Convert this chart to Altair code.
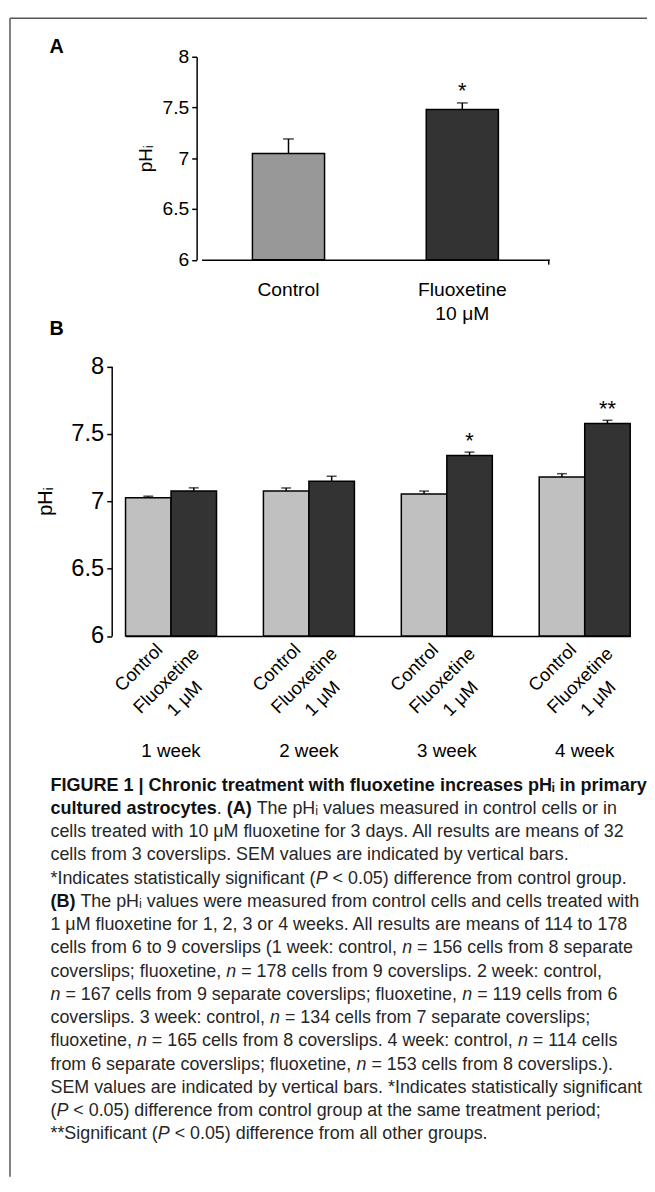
import altair as alt
import pandas as pd

# ------------------------------------------------------------------ data
groups_A = ["Control", "Fluoxetine\n10 μM"]
ph_A = [7.046, 7.48]
sem_A = [0.144, 0.065]
sig_A = ["", "*"]

weeks = ["1 week", "2 week", "3 week", "4 week"]
treatments_B = ["Control", "Fluoxetine\n1 μM"]
ph_B_control = [7.025, 7.075, 7.053, 7.18]
ph_B_fluox = [7.075, 7.148, 7.339, 7.577]
sem_B_control = [0.012, 0.023, 0.022, 0.024]
sem_B_fluox = [0.024, 0.037, 0.025, 0.023]
sig_B = ["", "", "*", "**"]

y_ticks = [6, 6.5, 7, 7.5, 8]
y_base = 6
y_title = "pHᵢ"

N = ("n", "italic")
P = ("P", "italic")
caption_lines = [
    [("FIGURE 1 | Chronic treatment with fluoxetine increases pHᵢ in primary", "bold")],
    [("cultured astrocytes", "bold"), (". ", "normal"), ("(A)", "bold"),
     (" The pHᵢ values measured in control cells or in", "normal")],
    [("cells treated with 10 μM fluoxetine for 3 days. All results are means of 32", "normal")],
    [("cells from 3 coverslips. SEM values are indicated by vertical bars.", "normal")],
    [("*Indicates statistically significant (", "normal"), P,
     (" < 0.05) difference from control group.", "normal")],
    [("(B)", "bold"), (" The pHᵢ values were measured from control cells and cells treated with", "normal")],
    [("1 μM fluoxetine for 1, 2, 3 or 4 weeks. All results are means of 114 to 178", "normal")],
    [("cells from 6 to 9 coverslips (1 week: control, ", "normal"), N,
     (" = 156 cells from 8 separate", "normal")],
    [("coverslips; fluoxetine, ", "normal"), N, (" = 178 cells from 9 coverslips. 2 week: control,", "normal")],
    [N, (" = 167 cells from 9 separate coverslips; fluoxetine, ", "normal"), N,
     (" = 119 cells from 6", "normal")],
    [("coverslips. 3 week: control, ", "normal"), N, (" = 134 cells from 7 separate coverslips;", "normal")],
    [("fluoxetine, ", "normal"), N, (" = 165 cells from 8 coverslips. 4 week: control, ", "normal"), N,
     (" = 114 cells", "normal")],
    [("from 6 separate coverslips; fluoxetine, ", "normal"), N,
     (" = 153 cells from 8 coverslips.).", "normal")],
    [("SEM values are indicated by vertical bars. *Indicates statistically significant", "normal")],
    [("(", "normal"), P, (" < 0.05) difference from control group at the same treatment period;", "normal")],
    [("**Significant (", "normal"), P, (" < 0.05) difference from all other groups.", "normal")],
]

# ------------------------------------------------------------------ layout helpers
FONT = "Liberation Sans"
W, H = 647, 1176
MARGIN = 8


def px(x):
    return x - MARGIN


def py(y):
    return y - MARGIN


def rot_shift(sx, sy):
    # convert a screen shift into the rotated (-45 deg) text frame
    c = 0.7071
    return c * (sx - sy), c * (sx + sy)


# Arial / Liberation Sans advance widths (1/1000 em) used to chain caption segments
_REG = {" ": 278, "!": 278, "(": 333, ")": 333, "*": 389, ",": 278, "-": 333, ".": 278,
        ":": 278, ";": 278, "<": 584, "=": 584, ">": 584, "|": 260, "μ": 576,
        "A": 667, "B": 667, "C": 722, "D": 722, "E": 667, "F": 611, "G": 778, "H": 722,
        "I": 278, "M": 833, "N": 722, "P": 667, "R": 722, "S": 667, "U": 722,
        "a": 556, "b": 556, "c": 500, "d": 556, "e": 556, "f": 278, "g": 556, "h": 556,
        "i": 222, "j": 222, "k": 500, "l": 222, "m": 833, "n": 556, "o": 556, "p": 556,
        "q": 556, "r": 333, "s": 500, "t": 278, "u": 556, "v": 500, "w": 722, "x": 500,
        "y": 500, "z": 500}
_BOLD = {" ": 278, "(": 333, ")": 333, ".": 278, "A": 722, "B": 722, "a": 556, "c": 556,
         "d": 611, "e": 556, "l": 278, "o": 611, "r": 389, "s": 556, "t": 333, "u": 611,
         "y": 556}
ARIAL = {"normal": _REG, "italic": _REG, "bold": _BOLD}
CAP_SIZE = {"normal": 18.1, "italic": 18.1, "bold": 18.25}


def text_width(s, style):
    return sum(ARIAL[style].get(ch, 556) for ch in s) * CAP_SIZE[style] / 1000


one = pd.DataFrame({"k": [0]})

# panel geometry (page pixels)
A_BOTTOM, A_TOP = 255.5, 50
B_BOTTOM, B_TOP = 636.5, 363.5

# ------------------------------------------------------------------ frame
frame = alt.layer(
    alt.Chart(one).mark_rule(color="#555555", strokeWidth=1.5).encode(
        x=alt.value(px(10)), y=alt.value(py(11)), y2=alt.value(H)),
    alt.Chart(one).mark_rule(color="#555555", strokeWidth=1.5).encode(
        x=alt.value(px(10)), x2=alt.value(W), y=alt.value(py(11))),
    alt.Chart(one).mark_rule(color="black", strokeWidth=1.5).encode(
        x=alt.value(px(555.5)), y=alt.value(py(A_BOTTOM)), y2=alt.value(py(A_BOTTOM) + 5)),
    alt.Chart(pd.DataFrame({"t": ["A", "B"], "yy": [py(40), py(326)]})).mark_text(
        font=FONT, fontSize=20, fontWeight="bold", align="left", baseline="middle").encode(
        x=alt.value(px(50)), y=alt.Y("yy:Q", scale=None), text="t:N"),
)

# ------------------------------------------------------------------ panel A
dfA = pd.DataFrame({"group": groups_A, "ph": ph_A, "sem": sem_A, "sig": sig_A})
dfA["upper"] = dfA["ph"] + dfA["sem"]

scale_xA = alt.Scale(domain=groups_A, range=[px(204), px(556)], paddingInner=0.585, paddingOuter=0.2925)
scale_yA = alt.Scale(domain=[6, 8], range=[py(A_BOTTOM), py(A_TOP)], zero=False, nice=False)

xA_axis = alt.Axis(orient="bottom", offset=py(A_BOTTOM) - H, domainColor="black", domainWidth=1.5,
                   ticks=False, labelAngle=0, labelExpr="split(datum.label, '\\n')",
                   labelFontSize=19.5, labelPadding=21, labelLineHeight=25, labelColor="black",
                   labelFont=FONT, title=None, grid=False)
yA_axis = alt.Axis(orient="left", offset=-px(199), values=y_ticks, format=".1~f", tickSize=5,
                   tickWidth=1.5, tickColor="black", domainColor="black", domainWidth=1.5,
                   labelFontSize=19.5, labelPadding=3, labelColor="black", labelFont=FONT,
                   title=y_title, titleFontSize=19, titleFontWeight="normal", titleFont=FONT,
                   titleColor="black", titleX=-42, grid=False)


def xA():
    return alt.X("group:N", sort=groups_A, scale=scale_xA, axis=xA_axis)


def yA(field):
    return alt.Y(field, scale=scale_yA, axis=yA_axis)


baseA = alt.Chart(dfA)
barsA = baseA.mark_bar(stroke="black", strokeWidth=1.5).encode(
    x=xA(), y=yA("ph:Q"), y2=alt.datum(y_base),
    color=alt.Color("group:N", scale=alt.Scale(domain=groups_A, range=["#989898", "#333333"]), legend=None),
)
errA = baseA.mark_rule(color="black", strokeWidth=1.5).encode(
    x=xA(), y=yA("ph:Q"), y2="upper:Q")
capA = baseA.mark_tick(color="black", size=11, thickness=1.5).encode(
    x=xA(), y=yA("upper:Q"))
starA = baseA.mark_text(font=FONT, fontSize=22, baseline="alphabetic", dy=-5, color="black").encode(
    x=xA(), y=yA("upper:Q"), text="sig:N")
panelA = alt.layer(barsA, errA, capA, starA)

# ------------------------------------------------------------------ panel B
rows = []
for i, wk in enumerate(weeks):
    rows.append({"week": wk, "treatment": treatments_B[0], "ph": ph_B_control[i],
                 "sem": sem_B_control[i], "sig": ""})
    rows.append({"week": wk, "treatment": treatments_B[1], "ph": ph_B_fluox[i],
                 "sem": sem_B_fluox[i], "sig": sig_B[i]})
dfB = pd.DataFrame(rows)
dfB["upper"] = dfB["ph"] + dfB["sem"]

scale_xB = alt.Scale(domain=weeks, range=[px(127), px(638)], paddingInner=0.34, paddingOuter=0)
scale_oB = alt.Scale(domain=treatments_B, paddingInner=0, paddingOuter=0)
scale_yB = alt.Scale(domain=[6, 8], range=[py(B_BOTTOM), py(B_TOP)], zero=False, nice=False)

xB_axis = alt.Axis(orient="bottom", offset=py(B_BOTTOM) - H, labels=False, ticks=False,
                   domainColor="black", domainWidth=1.5, title=None, grid=False)
yB_axis = alt.Axis(orient="left", offset=-px(113), values=y_ticks, format=".1~f", tickSize=5,
                   tickWidth=1.5, tickColor="black", domainColor="black", domainWidth=1.5,
                   labelFontSize=24, labelPadding=3, labelColor="black", labelFont=FONT,
                   title=y_title, titleFontSize=20, titleFontWeight="normal", titleFont=FONT,
                   titleColor="black", titleX=-57, grid=False)


def xB():
    return alt.X("week:N", sort=weeks, scale=scale_xB, axis=xB_axis)


def oB():
    return alt.XOffset("treatment:N", sort=treatments_B, scale=scale_oB)


def yB(field):
    return alt.Y(field, scale=scale_yB, axis=yB_axis)


baseB = alt.Chart(dfB)
barsB = baseB.mark_bar(stroke="black", strokeWidth=1.5).encode(
    x=xB(), xOffset=oB(), y=yB("ph:Q"), y2=alt.datum(y_base),
    color=alt.Color("treatment:N", scale=alt.Scale(domain=treatments_B, range=["#c0c0c0", "#333333"]),
                    legend=None),
)
errB = baseB.mark_rule(color="black", strokeWidth=1.5).encode(
    x=xB(), xOffset=oB(), y=yB("ph:Q"), y2="upper:Q")
capB = baseB.mark_tick(color="black", size=10, thickness=1.5).encode(
    x=xB(), xOffset=oB(), y=yB("upper:Q"))
starB = baseB.mark_text(font=FONT, fontSize=22, baseline="alphabetic", dy=-4, color="black").encode(
    x=xB(), xOffset=oB(), y=yB("upper:Q"), text="sig:N")

LAB_SIZE = 18.5
half_fluox = 4.613 * LAB_SIZE / 2  # half length of "Fluoxetine"
dx_c, dy_c = rot_shift(5, -8)
dx_f, dy_f = rot_shift(-4, -4)
lab_control = baseB.transform_filter(alt.datum.treatment == treatments_B[0]).mark_text(
    font=FONT, fontSize=LAB_SIZE, angle=315, align="right", baseline="top", dx=dx_c, dy=dy_c,
    color="black").encode(x=xB(), xOffset=oB(), y=alt.value(py(649)), text="treatment:N")
lab_fluox = baseB.transform_filter(alt.datum.treatment == treatments_B[1]).mark_text(
    font=FONT, fontSize=LAB_SIZE, angle=315, align="center", baseline="top", lineBreak="\n",
    lineHeight=26, dx=dx_f - half_fluox, dy=dy_f, color="black").encode(
    x=xB(), xOffset=oB(), y=alt.value(py(649)), text="treatment:N")
week_lab = alt.Chart(pd.DataFrame({"week": weeks})).mark_text(
    font=FONT, fontSize=19, baseline="middle", color="black").encode(
    x=xB(), y=alt.value(py(753)), text="week:N")

panelB = alt.layer(barsB, errB, capB, starB, lab_control, lab_fluox, week_lab)

# ------------------------------------------------------------------ caption
seg_rows = []
for i, line in enumerate(caption_lines):
    cursor = px(51)
    yy = py(788) + i * 23.55
    for txt, style in line:
        lead = len(txt) - len(txt.lstrip(" "))
        shown = txt.strip(" ")
        seg_rows.append({"txt": shown, "style": style,
                         "cx": cursor + text_width(" " * lead, style), "cy": yy})
        cursor += text_width(txt, style)
dfC = pd.DataFrame(seg_rows)


def caption_layer(style, **kw):
    return alt.Chart(dfC).transform_filter(alt.datum.style == style).mark_text(
        font=FONT, fontSize=CAP_SIZE[style], align="left", baseline="middle", **kw).encode(
        x=alt.X("cx:Q", scale=None), y=alt.Y("cy:Q", scale=None), text="txt:N")


captionL = alt.layer(
    caption_layer("normal", color="#262626"),
    caption_layer("italic", color="#262626", fontStyle="italic"),
    caption_layer("bold", color="#111111", fontWeight="bold"),
)

chart = alt.layer(frame, panelA, panelB, captionL).resolve_scale(
    x="independent", y="independent", color="independent", xOffset="independent"
).properties(
    width=W, height=H, autosize=alt.AutoSizeParams(type="none"), padding=0
).configure_view(stroke=None).configure_axis(labelFont=FONT, titleFont=FONT)

chart.save("out.html", embed_options={"renderer": "svg", "actions": False})
